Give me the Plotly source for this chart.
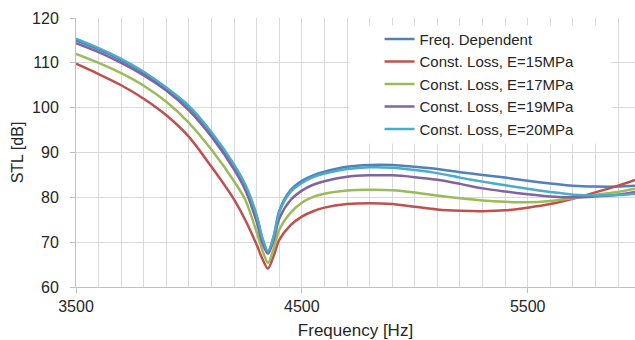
import plotly.graph_objects as go

freq = [3500, 3600, 3700, 3800, 3900, 4000, 4100, 4200, 4250, 4300, 4325, 4350,
        4375, 4400, 4450, 4500, 4550, 4600, 4700, 4800, 4900, 5000, 5100, 5200, 5300,
        5400, 5500, 5600, 5700, 5800, 5900, 5975]

freq_dependent = [115.0, 113.0, 110.6, 107.7, 104.2, 100.1, 94.2, 87.0, 82.6, 75.8, 70.8, 67.8,
                  71.2, 77.0, 81.6, 83.7, 84.9, 85.7, 86.8, 87.2, 87.2, 86.8, 86.3, 85.6, 85.0,
                  84.4, 83.7, 83.1, 82.6, 82.4, 82.4, 82.6]
e15 = [109.8, 107.5, 105.0, 102.0, 98.3, 93.5, 86.8, 79.5, 74.9, 69.4, 66.3, 64.1,
       66.9, 70.5, 73.8, 75.7, 76.9, 77.7, 78.5, 78.7, 78.5, 77.9, 77.3, 77.0, 76.9,
       77.1, 77.7, 78.5, 79.7, 81.1, 82.6, 83.9]
e17 = [112.0, 110.0, 107.7, 104.9, 101.3, 96.6, 90.6, 83.6, 79.4, 72.2, 68.2, 65.4,
       68.5, 72.8, 76.6, 78.8, 80.1, 80.8, 81.5, 81.7, 81.6, 81.1, 80.4, 79.8, 79.3,
       79.0, 78.9, 79.2, 79.8, 80.6, 81.2, 81.9]
e19 = [114.4, 112.4, 110.0, 107.2, 103.8, 99.4, 93.5, 86.2, 81.6, 74.5, 69.8, 67.4,
       70.4, 75.3, 79.4, 81.5, 82.8, 83.6, 84.6, 84.9, 84.9, 84.5, 83.9, 83.0, 82.0,
       81.3, 80.7, 80.2, 80.0, 80.2, 80.6, 81.2]
e20 = [115.4, 113.3, 110.9, 108.0, 104.5, 100.4, 94.5, 87.3, 82.8, 76.0, 71.0, 68.0,
       71.3, 76.7, 81.2, 83.2, 84.5, 85.3, 86.3, 86.7, 86.6, 86.1, 85.4, 84.4, 83.5,
       82.7, 81.9, 81.2, 80.6, 80.4, 80.5, 80.8]

names = ["Freq. Dependent", "Const. Loss, E=15MPa", "Const. Loss, E=17MPa",
         "Const. Loss, E=19MPa", "Const. Loss, E=20MPa"]
series = [freq_dependent, e15, e17, e19, e20]
colors = ["#4F81BD", "#C0504D", "#9BBB59", "#8064A2", "#4BACC6"]

FONT = "Arial, 'Liberation Sans', sans-serif"

fig = go.Figure()
for name, ys, c in zip(names, series, colors):
    fig.add_trace(go.Scatter(x=freq, y=ys, name=name, mode="lines",
                             line=dict(color=c, width=2.5, shape="spline", smoothing=0.8)))

# white box behind legend hiding gridlines
fig.add_shape(type="rect", xref="x", yref="y", x0=4712, x1=5870, y0=92.0, y1=118.4,
              fillcolor="white", line=dict(width=0), layer="above")

fig.update_layout(
    width=635, height=340,
    margin=dict(l=76, r=0, t=18, b=53),
    paper_bgcolor="white", plot_bgcolor="white",
    font=dict(family=FONT, size=16, color="#262626"),
    showlegend=True,
    legend=dict(x=0.543, y=0.982, xanchor="left", yanchor="top",
                bgcolor="rgba(255,255,255,0)", borderwidth=0,
                font=dict(size=15, color="#262626"), itemwidth=30,
                tracegroupgap=0),
)
fig.update_xaxes(range=[3500, 5975], tick0=3500, dtick=1000,
                 showgrid=True, gridcolor="#D9D9D9", gridwidth=1,
                 minor=dict(dtick=100, tick0=3500, showgrid=True, gridcolor="#D9D9D9", gridwidth=1),
                 ticks="outside", ticklen=5, tickcolor="#BFBFBF",
                 showline=True, linecolor="#BFBFBF", linewidth=1,
                 zeroline=False, ticklabelstandoff=0,
                 title=dict(text="Frequency [Hz]", standoff=10, font=dict(size=17)))
fig.update_yaxes(range=[60, 120], dtick=10, tick0=60,
                 showgrid=True, gridcolor="#D9D9D9", gridwidth=1,
                 ticks="outside", ticklen=5, tickcolor="#BFBFBF",
                 showline=True, linecolor="#BFBFBF", linewidth=1,
                 zeroline=False, ticklabelstandoff=8,
                 title=dict(text="STL [dB]", standoff=4, font=dict(size=16)))

fig.write_html("out.html")
